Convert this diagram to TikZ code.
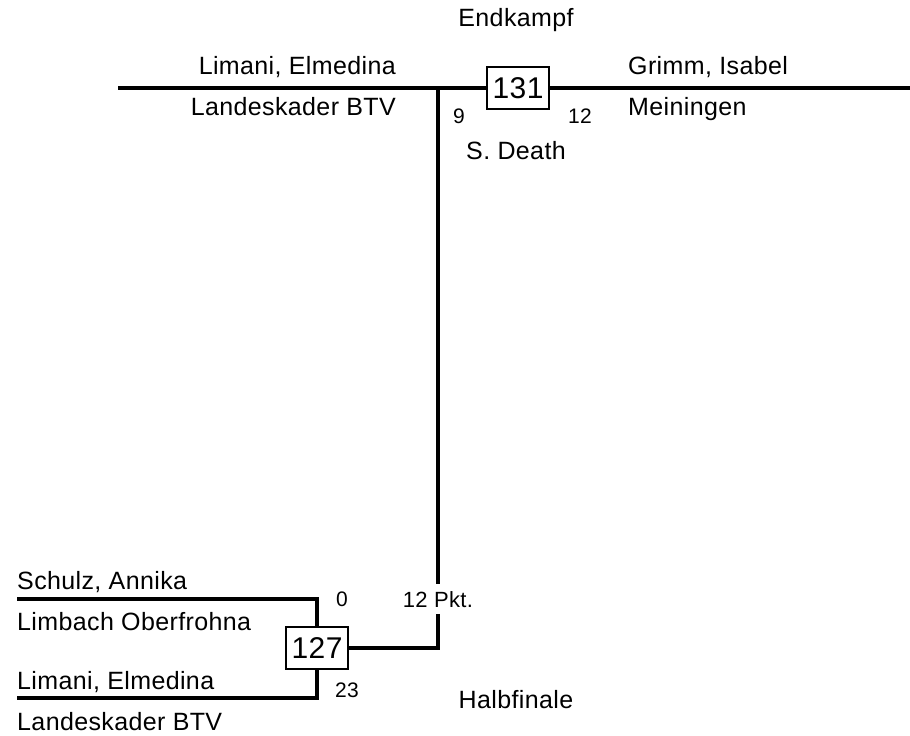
\documentclass[tikz,border=0pt]{standalone}
\usepackage{fontspec}
\setmainfont{Liberation Sans}[LetterSpace=1.5]
\begin{document}
\begin{tikzpicture}[
    x=1pt, y=-1pt,
    bracket/.style={line width=3.5pt},
    player/.style={inner sep=0pt, font=\fontsize{25}{28}\selectfont},
    points/.style={inner sep=0pt, font=\fontsize{21}{24}\selectfont},
    match/.style={draw, line width=1.2pt, fill=white, inner sep=0pt,
        minimum width=62pt, minimum height=42pt, font=\fontsize{30}{32}\selectfont}
]
\useasboundingbox (0,0) rectangle (910,736);

% Endkampf
\node[player, anchor=base] (final) at (516,27) {Endkampf};
\node[match] (m131) at (518,88) {131};
\coordinate (finL) at (118,88);
\coordinate (finR) at (910,88);
\coordinate (finJ) at (438,88);
\node[player, anchor=base east] (finAname) at (396,74) {Limani, Elmedina};
\node[player, anchor=base east] (finAclub) at (396,115) {Landeskader BTV};
\node[player, anchor=base west] (finBname) at (628,74) {Grimm, Isabel};
\node[player, anchor=base west] (finBclub) at (628,115) {Meiningen};
\node[points, anchor=base west] (finAscore) at (453,123) {9};
\node[points, anchor=base west] (finBscore) at (568,123) {12};
\node[player, anchor=base] (note) at (516,159) {S. Death};

% Halbfinale
\node[match] (m127) at (317,648) {127};
\coordinate (sfA) at (17,599);
\coordinate (sfB) at (17,698);
\node[player, anchor=base west] (sfAname) at (17,589) {Schulz, Annika};
\node[player, anchor=base west] (sfAclub) at (17,630) {Limbach Oberfrohna};
\node[player, anchor=base west] (sfBname) at (17,689) {Limani, Elmedina};
\node[player, anchor=base west] (sfBclub) at (17,730) {Landeskader BTV};
\node[points, anchor=base west] (sfAscore) at (336,606) {0};
\node[points, anchor=base west] (sfBscore) at (335,697) {23};
\node[points, anchor=base, inner ysep=6.5pt, font=\fontsize{22}{24}\selectfont] (pkt) at (438,607) {12 Pkt.};
\node[player, anchor=base] (semi) at (516,708) {Halbfinale};

% connectors
\draw[bracket] (finL) -- (m131.west);
\draw[bracket] (m131.east) -- (finR);
\draw[bracket] (finJ) -- (pkt.north);
\draw[bracket] (pkt.south) |- (m127.east);
\draw[bracket] (sfA) -| (m127.north);
\draw[bracket] (sfB) -| (m127.south);
\end{tikzpicture}
\end{document}
